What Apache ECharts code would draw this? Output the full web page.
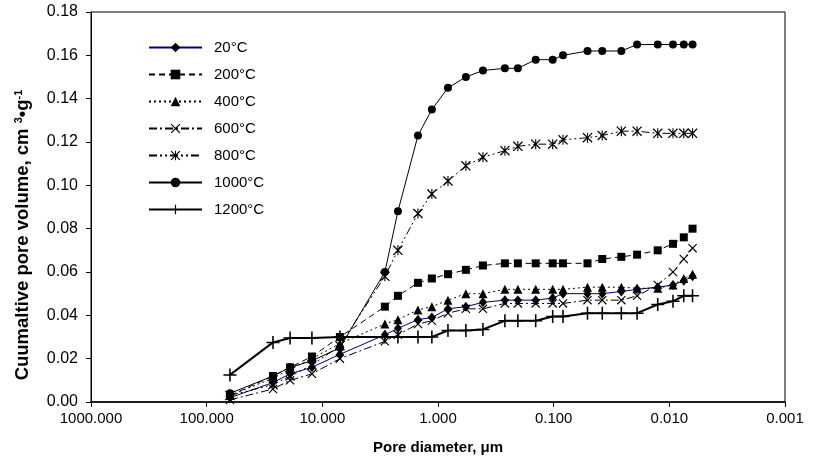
<!DOCTYPE html>
<html>
<head>
<meta charset="utf-8">
<script src="https://cdn.jsdelivr.net/npm/echarts@6/dist/echarts.min.js"></script>
<style>html,body{margin:0;padding:0;background:#fff}#c{width:818px;height:466px}</style>
</head>
<body>
<div id="c"></div>
<script>
// Pore diameters (µm) shared by all series
const diameters = [62.9, 26.7, 19.0, 12.3, 7.05, 2.88, 2.22, 1.49, 1.13, 0.82, 0.574, 0.409, 0.264, 0.204, 0.143, 0.102, 0.083, 0.051, 0.038, 0.026, 0.019, 0.0126, 0.0093, 0.0075, 0.0063];
const seriesNames = ['20°C', '200°C', '400°C', '600°C', '800°C', '1000°C', '1200°C'];
const v20   = [0.002, 0.009, 0.013, 0.016, 0.022, 0.031, 0.034, 0.038, 0.039, 0.043, 0.044, 0.046, 0.047, 0.047, 0.047, 0.048, 0.050, 0.050, 0.050, 0.051, 0.052, 0.053, 0.054, 0.056, 0.058];
const v200  = [0.003, 0.012, 0.016, 0.021, 0.030, 0.044, 0.049, 0.055, 0.057, 0.059, 0.061, 0.063, 0.064, 0.064, 0.064, 0.064, 0.064, 0.064, 0.066, 0.067, 0.068, 0.070, 0.073, 0.076, 0.080];
const v400  = [0.003, 0.011, 0.015, 0.020, 0.027, 0.036, 0.038, 0.0425, 0.044, 0.047, 0.050, 0.050, 0.052, 0.052, 0.052, 0.052, 0.052, 0.053, 0.053, 0.053, 0.0525, 0.0525, 0.054, 0.057, 0.059];
const v600  = [0.001, 0.006, 0.010, 0.013, 0.020, 0.028, 0.031, 0.036, 0.0375, 0.041, 0.043, 0.043, 0.0455, 0.0455, 0.0455, 0.0455, 0.0455, 0.047, 0.047, 0.047, 0.049, 0.054, 0.060, 0.066, 0.071];
const v800  = [0.003, 0.008, 0.012, 0.017, 0.026, 0.058, 0.070, 0.087, 0.096, 0.102, 0.109, 0.113, 0.116, 0.118, 0.119, 0.119, 0.121, 0.122, 0.123, 0.125, 0.125, 0.124, 0.124, 0.124, 0.124];
const v1000 = [0.004, 0.012, 0.016, 0.019, 0.025, 0.060, 0.088, 0.123, 0.135, 0.145, 0.150, 0.153, 0.154, 0.154, 0.158, 0.158, 0.160, 0.162, 0.162, 0.162, 0.165, 0.165, 0.165, 0.165, 0.165];
const v1200 = [0.0125, 0.0275, 0.0295, 0.0295, 0.030, 0.030, 0.030, 0.030, 0.030, 0.033, 0.033, 0.0335, 0.0375, 0.0375, 0.0375, 0.0395, 0.0395, 0.041, 0.041, 0.041, 0.041, 0.045, 0.0465, 0.049, 0.049];
const xTicks = [1000, 100, 10, 1, 0.1, 0.01, 0.001];
const yTicks = [0, 0.02, 0.04, 0.06, 0.08, 0.10, 0.12, 0.14, 0.16, 0.18];

const X_SYM = 'path://M0,0.9L0.9,0L10,9.1L9.1,10Z M9.1,0L10,0.9L0.9,10L0,9.1Z';
const AST_SYM = 'path://M0,0.9L0.9,0L10,9.1L9.1,10Z M9.1,0L10,0.9L0.9,10L0,9.1Z M4.45,0L5.55,0L5.55,10L4.45,10Z';
const PLUS_SYM = 'path://M4.4,0L5.6,0L5.6,10L4.4,10Z M0,4.4L10,4.4L10,5.6L0,5.6Z';

const pair = vals => diameters.map((d, i) => [d, vals[i]]);
const styles = [
  {data: v20,   color: '#000080', type: 'solid', width: 1, symbol: 'diamond', size: [8, 10]},
  {data: v200,  color: '#000', type: [6, 4], width: 1, symbol: 'rect', size: 8},
  {data: v400,  color: '#000', type: [2, 3], width: 1, symbol: 'triangle', size: 9},
  {data: v600,  color: '#000', type: [8, 3, 2, 3], width: 1, symbol: X_SYM, size: 9},
  {data: v800,  color: '#000', type: [8, 3, 2, 3, 2, 3], width: 1, symbol: AST_SYM, size: 10},
  {data: v1000, color: '#000', type: 'solid', width: 1, symbol: 'circle', size: 8},
  {data: v1200, color: '#000', type: 'solid', width: 2, symbol: PLUS_SYM, size: 13}
];

const FONT = 'Liberation Sans, Arial, Helvetica, sans-serif';
const chart = echarts.init(document.getElementById('c'), null, {renderer: 'canvas'});
chart.setOption({
  animation: false,
  backgroundColor: '#fff',
  grid: {left: 91, right: 33, top: 12, bottom: 64, show: true, borderColor: '#000', borderWidth: 1, containLabel: false},
  legend: {
    orient: 'vertical', left: 148, top: 40, padding: 0, itemWidth: 53, itemHeight: 12, itemGap: 12,
    data: seriesNames,
    textStyle: {fontFamily: FONT, fontSize: 15, color: '#000', padding: [0, 0, 0, 7]}
  },
  xAxis: {
    type: 'log', logBase: 10, inverse: true, min: 0.001, max: 1000,
    name: 'Pore diameter, μm', nameLocation: 'middle', nameGap: 38,
    nameTextStyle: {fontFamily: FONT, fontSize: 15, fontWeight: 'bold', color: '#000'},
    axisLine: {lineStyle: {color: '#000', width: 1.5}},
    axisTick: {show: true, length: 5, lineStyle: {color: '#000'}},
    minorTick: {show: false}, splitLine: {show: false},
    axisLabel: {fontFamily: FONT, fontSize: 15, color: '#000', margin: 9,
      formatter: v => { const t = xTicks.find(x => Math.abs(Math.log10(x) - Math.log10(v)) < 1e-6); return (t !== undefined ? t : v).toFixed(3); }}
  },
  yAxis: {
    type: 'value', min: 0, max: 0.18, interval: 0.02,
    name: 'Cuumaltive pore volume, cm {sup|3}•g{sup|-1}', nameLocation: 'middle', nameGap: 58,
    nameTextStyle: {fontFamily: FONT, fontSize: 18.5, fontWeight: 'bold', color: '#000', padding: [0, 56, 0, 0],
      rich: {sup: {fontFamily: FONT, fontSize: 11, fontWeight: 'bold', color: '#000', verticalAlign: 'bottom', padding: [0, 0, 9, 0]}}},
    axisLine: {show: true, lineStyle: {color: '#000', width: 1}},
    axisTick: {show: true, length: 5, lineStyle: {color: '#000'}},
    splitLine: {show: false},
    axisLabel: {fontFamily: FONT, fontSize: 16, color: '#000', margin: 13, formatter: v => v.toFixed(2)}
  },
  series: styles.map((s, i) => ({
    name: seriesNames[i], type: 'line', data: pair(s.data),
    symbol: s.symbol, symbolSize: s.size, showSymbol: true,
    lineStyle: {color: s.color, width: s.width, type: s.type},
    itemStyle: {color: '#000', borderWidth: 0},
    z: 2 + i
  }))
});
</script>
</body>
</html>
